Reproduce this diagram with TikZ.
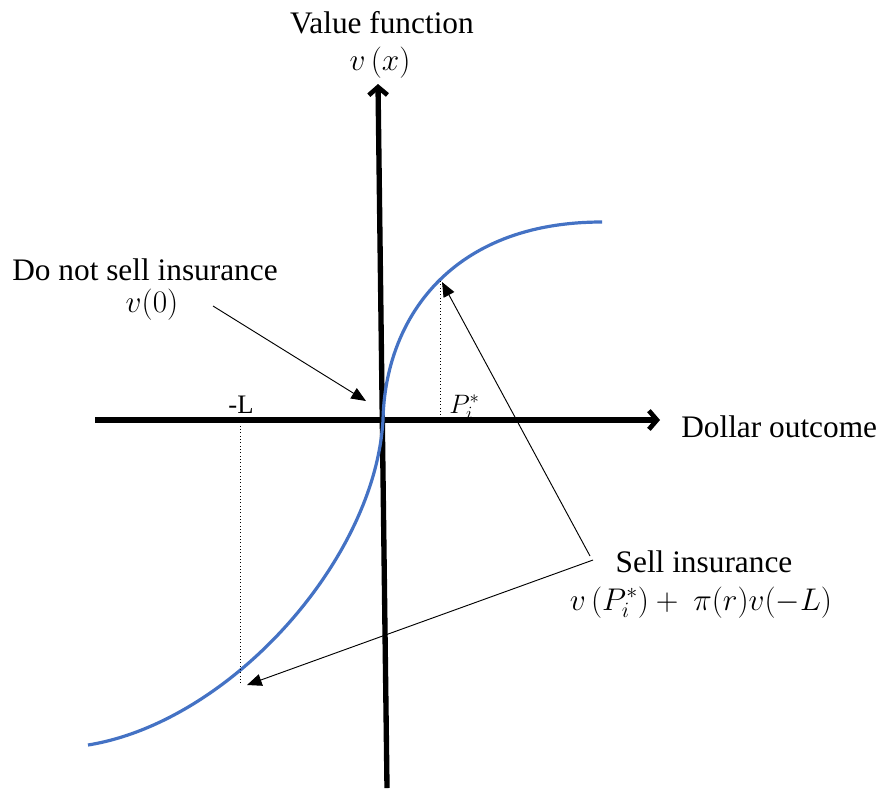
\documentclass[tikz,border=0pt]{standalone}
\usepackage{fontspec}
\usepackage{fix-cm}
\setmainfont{Liberation Serif}
\usetikzlibrary{arrows.meta}
\begin{document}
\begin{tikzpicture}[x=0.75pt,y=-0.75pt,
  lbl/.style={inner sep=0pt,anchor=base,font=\fontsize{23.5}{28}\selectfont},
  small/.style={inner sep=0pt,anchor=base,font=\fontsize{20}{24}\selectfont},
  axis/.style={line width=4pt,-{Straight Barb[length=6pt,width=14pt,line width=3.5pt]}},
  pointer/.style={line width=0.7pt,-{Triangle[length=11pt,width=9pt]}},
  guide/.style={line width=0.5pt,dotted},
  curve/.style={line width=2.4pt,color={rgb,255:red,68;green,114;blue,196}}]
\useasboundingbox (0,0) rectangle (880,790);
% axes
\coordinate (xs) at (95,420);
\coordinate (xe) at (660,420);
\coordinate (ys) at (387,788);
\coordinate (ye) at (378,84);
\draw[axis] (xs) -- (xe);
\draw[axis] (ys) -- (ye);
% curve
\coordinate (o) at (383,420);
\draw[curve] (88,745) .. controls (230,722) and (375,560) .. (o)
  .. controls (385,320) and (450,222) .. (602,222);
% guides
\coordinate (pL) at (240,683);
\coordinate (pLx) at (240,421);
\coordinate (pP) at (440,281);
\coordinate (pPx) at (440,417);
\draw[guide] (pL) -- (pLx);
\draw[guide] (pP) -- (pPx);
% labels
\node[lbl] (vf) at (382,33) {Value function};
\node[lbl] (vx) at (380,70) {$v\,(x)$};
\node[lbl,anchor=base west] (dol) at (681,437) {Dollar outcome};
\node[small] (mL) at (241,413) {-L};
\node[small,anchor=base west] (ps) at (449,413) {$P_i^*$};
\node[lbl] (dn) at (145,280) {Do not sell insurance};
\node[lbl] (v0) at (152,312) {$v(0)$};
\node[lbl] (si) at (704,572) {Sell insurance};
\node[lbl] (sf) at (701,610) {$v\,(P_i^*) +\ \pi(r)v(-L)$};
% pointers
\coordinate (a1s) at (213,306);
\coordinate (a1e) at (366,401);
\coordinate (a2s) at (590,556);
\coordinate (a2e) at (442,282);
\coordinate (a3s) at (593,560);
\coordinate (a3e) at (247,685);
\draw[pointer] (a1s) -- (a1e);
\draw[pointer] (a2s) -- (a2e);
\draw[pointer] (a3s) -- (a3e);
\end{tikzpicture}
\end{document}
